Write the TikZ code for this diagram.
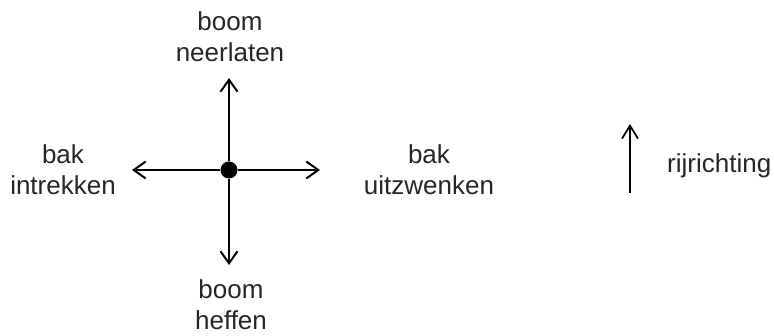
\documentclass[tikz,border=0pt]{standalone}
\usepackage{fontspec}
\setmainfont{Liberation Sans}
\usetikzlibrary{arrows.meta}
\begin{document}
\begin{tikzpicture}[x=1pt,y=1pt,
  lbl/.style={align=center,font=\fontsize{26}{31.5}\selectfont,inner sep=0pt,text=black!85},
  arr/.style={line width=2pt,-{Straight Barb[length=12pt,width=17pt,line width=2pt]}},
  ]
\useasboundingbox (0,0) rectangle (774,336);
\node[circle,fill=black,minimum size=17pt,inner sep=0pt] (c) at (229,166) {};
\coordinate (up) at (229,258);
\coordinate (dn) at (229,71);
\coordinate (lt) at (132,166);
\coordinate (rt) at (320,166);
\draw[arr] (c) -- (up);
\draw[arr] (c) -- (dn);
\draw[arr] (c) -- (lt);
\draw[arr] (c) -- (rt);
\node[lbl,anchor=base] (neer) at (230,274) {boom\\neerlaten};
\node[lbl,anchor=base] (intr) at (63,141) {bak\\intrekken};
\node[lbl,anchor=base] (uitz) at (429,141) {bak\\uitzwenken};
\node[lbl,anchor=base] (heff) at (231,6) {boom\\heffen};
\coordinate (rs) at (630,143);
\coordinate (re) at (630,212);
\draw[line width=1.7pt,-{Straight Barb[length=13pt,width=16pt,line width=1.7pt]}] (rs) -- (re);
\node[lbl,anchor=base west] (rij) at (667,163) {rijrichting};
\end{tikzpicture}
\end{document}
